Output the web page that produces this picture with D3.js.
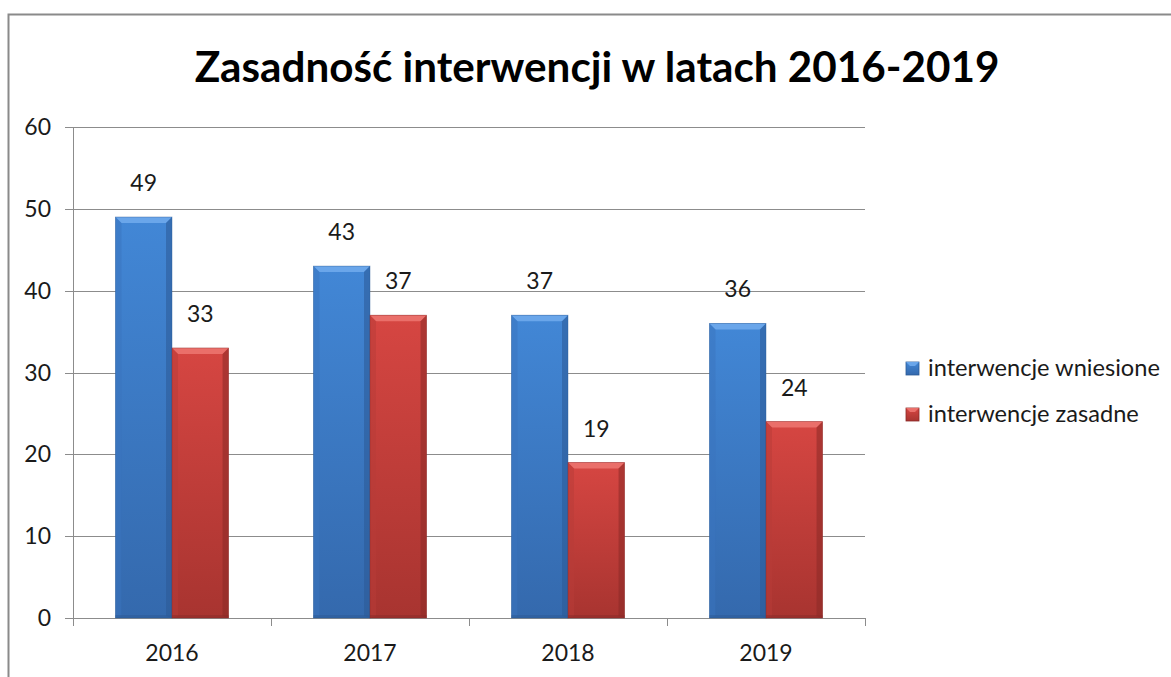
<!DOCTYPE html>
<html>
<head>
<meta charset="utf-8">
<script src="https://cdn.jsdelivr.net/npm/d3@7"></script>
<style>
html,body{margin:0;padding:0;background:#fff;}
svg{display:block;font-family:Lato,"Open Sans",sans-serif;}
</style>
</head>
<body>
<svg id="chart" width="1171" height="677"></svg>
<script>
const title = "Zasadność interwencji w latach 2016-2019";
const categories = ["2016", "2017", "2018", "2019"];
const seriesNames = ["interwencje wniesione", "interwencje zasadne"];
const wniesione = [49, 43, 37, 36];
const zasadne = [33, 37, 19, 24];
const yTicks = [0, 10, 20, 30, 40, 50, 60];

(function () {
const svg = d3.select("#chart");
const W = 1171, H = 677;
const pLeft = 73, pRight = 865, pTop = 127, pBottom = 618;

// outer border
svg.append("path").attr("d", `M8.5,${H} L8.5,14.5 L${W},14.5`)
  .attr("fill", "none").attr("stroke", "#8a8a8a").attr("stroke-width", 2);

const defs = svg.append("defs");
const palettes = [
  {id: "blue", top: "#4287d6", bot: "#3469ad", light: "#6aa6ea", dark: "#2c5a96", side: "#3a74bd"},
  {id: "red", top: "#d64642", bot: "#a83430", light: "#ea6f6a", dark: "#8a2a27", side: "#b83b37"}
];
palettes.forEach(p => {
  const g = defs.append("linearGradient").attr("id", "g-" + p.id)
    .attr("x1", 0).attr("y1", 0).attr("x2", 0).attr("y2", 1);
  g.append("stop").attr("offset", "0%").attr("stop-color", p.top);
  g.append("stop").attr("offset", "100%").attr("stop-color", p.bot);
});

const x0 = d3.scaleBand().domain(categories).range([pLeft, pRight]).paddingInner(0).paddingOuter(0);
const x1 = d3.scaleBand().domain(seriesNames).range([0, x0.bandwidth()]).paddingInner(0).paddingOuter(0.75);
const y = d3.scaleLinear().domain([0, 60]).range([pBottom, pTop]);

// gridlines
svg.append("g").selectAll("line").data(yTicks).join("line")
  .attr("x1", pLeft - 8).attr("x2", pRight)
  .attr("y1", d => Math.round(y(d)) + 0.5).attr("y2", d => Math.round(y(d)) + 0.5)
  .attr("stroke", "#8c8c8c").attr("stroke-width", 1);

// y axis line
svg.append("line").attr("x1", pLeft + 0.5).attr("x2", pLeft + 0.5)
  .attr("y1", y(60)).attr("y2", y(0)).attr("stroke", "#8c8c8c");

// x axis ticks at category boundaries
const bounds = categories.map(c => x0(c)).concat([pRight]);
svg.append("g").selectAll("line").data(bounds).join("line")
  .attr("x1", d => Math.round(d) + 0.5).attr("x2", d => Math.round(d) + 0.5)
  .attr("y1", y(0)).attr("y2", y(0) + 8).attr("stroke", "#8c8c8c");

// y tick labels
svg.append("g").selectAll("text").data(yTicks).join("text")
  .attr("x", 51).attr("y", d => y(d) + 8)
  .attr("text-anchor", "end").attr("font-size", 23).attr("fill", "#1a1a1a")
  .text(d => d);

// x labels
svg.append("g").selectAll("text").data(categories).join("text")
  .attr("x", d => x0(d) + x0.bandwidth() / 2).attr("y", 661)
  .attr("text-anchor", "middle").attr("font-size", 23).attr("fill", "#1a1a1a")
  .text(d => d);

// bars
const data = categories.map((c, i) => ({c, vals: [wniesione[i], zasadne[i]]}));
const bev = 6;
function drawBar(g, x, w, v, p) {
  const yt = y(v), yb = y(0);
  g.append("rect").attr("x", x).attr("y", yt).attr("width", w).attr("height", yb - yt)
    .attr("fill", `url(#g-${p.id})`);
  g.append("path").attr("d", `M${x},${yt} L${x + w},${yt} L${x + w - bev},${yt + bev} L${x + bev},${yt + bev} Z`)
    .attr("fill", p.light);
  g.append("path").attr("d", `M${x},${yt} L${x + bev},${yt + bev} L${x + bev},${yb - 2} L${x},${yb} Z`)
    .attr("fill", p.side).attr("opacity", 0.5);
  g.append("path").attr("d", `M${x + w},${yt} L${x + w - bev},${yt + bev} L${x + w - bev},${yb - 2} L${x + w},${yb} Z`)
    .attr("fill", p.dark).attr("opacity", 0.55);
  g.append("rect").attr("x", x).attr("y", yb - 3).attr("width", w).attr("height", 3)
    .attr("fill", p.dark).attr("opacity", 0.5);
  g.append("rect").attr("x", x).attr("y", yt).attr("width", w).attr("height", yb - yt)
    .attr("fill", "none").attr("stroke", p.dark).attr("stroke-opacity", 0.5).attr("stroke-width", 0.8);
}
const barsG = svg.append("g");
data.forEach(d => {
  d.vals.forEach((v, si) => {
    const bx = x0(d.c) + x1(seriesNames[si]);
    const bw = x1.bandwidth();
    drawBar(barsG, bx, bw, v, palettes[si]);
    barsG.append("text").attr("x", bx + bw / 2).attr("y", y(v) - 26)
      .attr("text-anchor", "middle").attr("font-size", 23).attr("fill", "#1a1a1a")
      .text(v);
  });
});

// title
const t = svg.append("text").attr("x", 597).attr("y", 82).attr("text-anchor", "middle")
  .attr("font-size", 44).attr("font-weight", "bold").attr("fill", "#000").text(title);
const tw = t.node().getComputedTextLength();
if (tw > 0) t.attr("font-size", 44 * 805 / tw);

// legend
const leg = svg.append("g");
const legY = [376, 422];
let sc = 1;
seriesNames.forEach((n, i) => {
  const p = palettes[i];
  const sy = legY[i] - 14;
  leg.append("rect").attr("x", 906).attr("y", sy).attr("width", 13).attr("height", 13)
    .attr("fill", `url(#g-${p.id})`).attr("stroke", p.dark).attr("stroke-width", 0.8);
  leg.append("path").attr("d", `M906,${sy} L919,${sy} L915,${sy + 4} L910,${sy + 4} Z`).attr("fill", p.light);
  const lt = leg.append("text").attr("x", 928).attr("y", legY[i]).attr("font-size", 23)
    .attr("fill", "#1a1a1a").text(n);
  if (i === 0) {
    const lw = lt.node().getComputedTextLength();
    if (lw > 0) sc = 232 / lw;
  }
});
leg.selectAll("text").attr("font-size", 23 * sc);
})();
</script>
</body>
</html>
